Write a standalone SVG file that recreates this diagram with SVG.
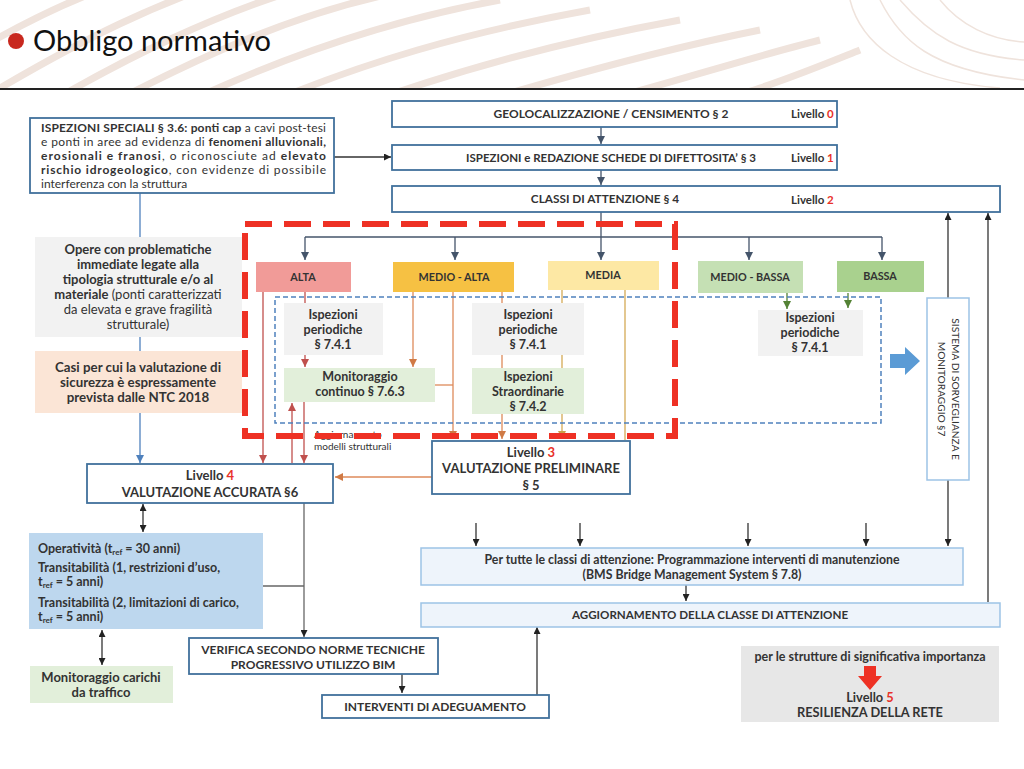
<svg xmlns="http://www.w3.org/2000/svg" width="1024" height="769" viewBox="0 0 1024 769">
<defs>
<style>
text{font-family:Lato,"Open Sans","Liberation Sans",sans-serif;fill:#333}
.b{font-weight:bold}
.c{text-anchor:middle}
.box{fill:#fff;stroke:#41719c;stroke-width:1.8}
.lbox{fill:#eef4fb;stroke:#9dc3e6;stroke-width:1.5}
.gray{fill:#f2f2f2}
.green{fill:#e2efda}
.red{fill:#e8322a}
.ln{fill:none;stroke-width:1.3}
.dk{stroke:#44546a}
.bk{stroke:#333}
.rd{stroke:#c0504d}
.or{stroke:#de8a5a}
.gd{stroke:#d4aa55}
.gn{stroke:#548235}
.bl{stroke:#4f81bd}
.gy{stroke:#666}
.wave{fill:none;stroke:#efe3dc;stroke-width:7}
</style>
<marker id="m-dk" viewBox="0 0 10 10" refX="10" refY="5" markerWidth="8" markerHeight="8" markerUnits="userSpaceOnUse" orient="auto-start-reverse"><path d="M0,0L10,5L0,10z" fill="#44546a"/></marker>
<marker id="m-bk" viewBox="0 0 10 10" refX="10" refY="5" markerWidth="7" markerHeight="7" markerUnits="userSpaceOnUse" orient="auto-start-reverse"><path d="M0,0L10,5L0,10z" fill="#222"/></marker>
<marker id="m-rd" viewBox="0 0 10 10" refX="10" refY="5" markerWidth="8" markerHeight="8" markerUnits="userSpaceOnUse" orient="auto-start-reverse"><path d="M0,0L10,5L0,10z" fill="#c0504d"/></marker>
<marker id="m-or" viewBox="0 0 10 10" refX="10" refY="5" markerWidth="8" markerHeight="8" markerUnits="userSpaceOnUse" orient="auto-start-reverse"><path d="M0,0L10,5L0,10z" fill="#d07a45"/></marker>
<marker id="m-gd" viewBox="0 0 10 10" refX="10" refY="5" markerWidth="8" markerHeight="8" markerUnits="userSpaceOnUse" orient="auto-start-reverse"><path d="M0,0L10,5L0,10z" fill="#c9a14a"/></marker>
<marker id="m-gn" viewBox="0 0 10 10" refX="10" refY="5" markerWidth="8" markerHeight="8" markerUnits="userSpaceOnUse" orient="auto-start-reverse"><path d="M0,0L10,5L0,10z" fill="#548235"/></marker>
<marker id="m-bl" viewBox="0 0 10 10" refX="10" refY="5" markerWidth="8" markerHeight="8" markerUnits="userSpaceOnUse" orient="auto-start-reverse"><path d="M0,0L10,5L0,10z" fill="#4f81bd"/></marker>
<clipPath id="hdr"><rect x="0" y="0" width="1024" height="88"/></clipPath>
</defs>
<rect width="1024" height="769" fill="#fff"/>
<g id="header">
<g clip-path="url(#hdr)">
<path class="wave" d="M-40,60 C60,0 120,-20 200,-40"/>
<path class="wave" d="M-20,100 C80,40 160,0 260,-30"/>
<path class="wave" d="M20,120 C120,60 220,10 330,-20"/>
<path class="wave" d="M80,120 C190,60 300,10 410,-10"/>
<path class="wave" d="M150,120 C270,60 390,20 500,0"/>
<path class="wave" d="M230,120 C360,60 480,30 590,10"/>
<path class="wave" d="M320,120 C450,70 570,40 680,20"/>
<path class="wave" d="M420,120 C550,80 660,50 760,30"/>
<path class="wave" d="M530,120 C650,90 740,60 820,40"/>
<path class="wave" d="M640,120 C740,100 810,70 860,50"/>
<path fill="none" stroke="#efe3dc" stroke-width="1.5" d="M880,0 C900,40 930,70 1024,80 M900,0 C930,35 960,55 1024,60 M940,0 C960,25 990,40 1024,42 M850,0 C860,40 900,80 1000,88"/>
</g>
<circle cx="16" cy="41" r="8" fill="#c8281e"/>
<text x="33" y="51" font-size="29" style="fill:#111">Obbligo normativo</text>
<line x1="0" y1="89" x2="1024" y2="89" stroke="#222" stroke-width="1.8"/>
</g>
<g id="connectors">
<path class="ln dk" d="M601,127V144" marker-end="url(#m-dk)"/>
<path class="ln dk" d="M601,170V185" marker-end="url(#m-dk)"/>
<path class="ln bk" d="M334,157H391" marker-end="url(#m-bk)"/>
<path class="ln bl" d="M140,193V463" marker-end="url(#m-bl)"/>
<path class="ln dk" d="M601,212V260" marker-end="url(#m-dk)"/>
<path class="ln dk" d="M305,237H882"/>
<path class="ln dk" d="M305,237V260" marker-end="url(#m-dk)"/>
<path class="ln dk" d="M455,237V260" marker-end="url(#m-dk)"/>
<path class="ln dk" d="M749,237V260" marker-end="url(#m-dk)"/>
<path class="ln dk" d="M882,237V260" marker-end="url(#m-dk)"/>
<path class="ln gn" d="M787,293V309" marker-end="url(#m-gn)"/>
<path class="ln gn" d="M848,293V308" marker-end="url(#m-gn)"/>
<path class="ln rd" d="M305,292V304"/>
<path class="ln rd" d="M305,355V367" marker-end="url(#m-rd)"/>
<path class="ln rd" d="M263,292V463" marker-end="url(#m-rd)"/>
<path class="ln rd" d="M304,402V463" marker-end="url(#m-rd)"/>
<path class="ln rd" d="M292,463V403" marker-end="url(#m-rd)"/>
<path class="ln or" d="M413,292V367" marker-end="url(#m-or)"/>
<path class="ln or" d="M453,292V439" marker-end="url(#m-or)"/>
<path class="ln or" d="M435,385H453"/>
<path class="ln or" d="M502,292V439" marker-end="url(#m-or)"/>
<path class="ln gd" d="M562,290V439" marker-end="url(#m-gd)"/>
<path class="ln gd" d="M625,290V440"/>
<path class="ln or" d="M432,477H335" marker-end="url(#m-or)"/>
<path class="ln bk" d="M143,504V532" marker-start="url(#m-bk)" marker-end="url(#m-bk)"/>
<path class="ln bk" d="M102,630V665" marker-start="url(#m-bk)" marker-end="url(#m-bk)"/>
<path class="ln gy" d="M304,503V637" marker-end="url(#m-bk)"/>
<path class="ln gy" d="M263,586H304"/>
<path class="ln bk" d="M402,674V693" marker-end="url(#m-bk)"/>
<path class="ln bk" d="M537,695V627" marker-end="url(#m-bk)"/>
<path class="ln bk" d="M686,585V601" marker-end="url(#m-bk)"/>
<path class="ln bk" d="M476,523V546" marker-end="url(#m-bk)"/>
<path class="ln bk" d="M580,523V546" marker-end="url(#m-bk)"/>
<path class="ln bk" d="M748,523V546" marker-end="url(#m-bk)"/>
<path class="ln bk" d="M866,523V546" marker-end="url(#m-bk)"/>
<path class="ln bk" d="M948,298V213" marker-end="url(#m-bk)"/>
<path class="ln bk" d="M948,480V546" marker-end="url(#m-bk)"/>
<path class="ln bk" d="M988,602V213" marker-end="url(#m-bk)"/>
</g>
<g id="n-geo">
<rect class="box" x="392" y="101" width="445" height="26"/>
<text class="b c" x="611" y="118" font-size="12">GEOLOCALIZZAZIONE / CENSIMENTO § 2</text>
<text class="b" x="791" y="118" font-size="11.5">Livello <tspan class="red">0</tspan></text>
</g>
<g id="n-isp">
<rect class="box" x="392" y="145" width="445" height="25"/>
<text class="b c" x="611" y="162" font-size="11.5">ISPEZIONI e REDAZIONE SCHEDE DI DIFETTOSITA’ § 3</text>
<text class="b" x="791" y="162" font-size="11.5">Livello <tspan class="red">1</tspan></text>
</g>
<g id="n-classi">
<rect class="box" x="392" y="186" width="608" height="26"/>
<text class="b c" x="605" y="203" font-size="11.8">CLASSI DI ATTENZIONE § 4</text>
<text class="b" x="791" y="204" font-size="11.5">Livello <tspan class="red">2</tspan></text>
</g>
<g id="n-speciali">
<rect x="30" y="118" width="304" height="75" fill="#fff" stroke="#41719c" stroke-width="1.8"/>
<text x="41" y="132" font-size="12" textLength="285" lengthAdjust="spacing"><tspan class="b">ISPEZIONI SPECIALI § 3.6: ponti cap</tspan> a cavi post-tesi</text>
<text x="41" y="146" font-size="12" textLength="285" lengthAdjust="spacing">e ponti in aree ad evidenza di <tspan class="b">fenomeni alluvionali,</tspan></text>
<text x="41" y="160" font-size="12" textLength="285" lengthAdjust="spacing"><tspan class="b">erosionali e franosi</tspan>, o riconosciute ad <tspan class="b">elevato</tspan></text>
<text x="41" y="174" font-size="12" textLength="285" lengthAdjust="spacing"><tspan class="b">rischio idrogeologico</tspan>, con evidenze di possibile</text>
<text x="41" y="188" font-size="12">interferenza con la struttura</text>
</g>
<g id="n-opere">
<rect class="gray" x="35" y="237" width="207" height="100"/>
<text class="b c" x="138" y="254" font-size="13">Opere con problematiche</text>
<text class="b c" x="138" y="269" font-size="13">immediate legate alla</text>
<text class="b c" x="138" y="284" font-size="13">tipologia strutturale e/o al</text>
<text class="c" x="138" y="299" font-size="13"><tspan class="b">materiale</tspan> (ponti caratterizzati</text>
<text class="c" x="138" y="314" font-size="13">da elevata e grave fragilità</text>
<text class="c" x="138" y="329" font-size="13">strutturale)</text>
</g>
<g id="n-casi">
<rect x="35" y="351" width="207" height="62" fill="#fbe5d6"/>
<text class="b c" x="138" y="372" font-size="13.3">Casi per cui la valutazione di</text>
<text class="b c" x="138" y="387" font-size="13.3">sicurezza è espressamente</text>
<text class="b c" x="138" y="402" font-size="13.3">prevista dalle NTC 2018</text>
</g>
<g id="n-alta">
<rect x="256" y="262" width="95" height="30" fill="#f19b98"/>
<text class="b c" x="303" y="281" font-size="10.8">ALTA</text>
</g>
<g id="n-medioalta">
<rect x="393" y="262" width="121" height="30" fill="#f6c143"/>
<text class="b c" x="454" y="281" font-size="10.8">MEDIO - ALTA</text>
</g>
<g id="n-media">
<rect x="548" y="261" width="111" height="29" fill="#fde8a4"/>
<text class="b c" x="603" y="279" font-size="10.8">MEDIA</text>
</g>
<g id="n-mediobassa">
<rect x="698" y="261" width="105" height="32" fill="#c5e0b4"/>
<text class="b c" x="750" y="281" font-size="10.8">MEDIO - BASSA</text>
</g>
<g id="n-bassa">
<rect x="837" y="261" width="87" height="31" fill="#a9d18e"/>
<text class="b c" x="880" y="280" font-size="10.8">BASSA</text>
</g>
<g id="n-frame">
<rect x="275" y="297" width="606" height="126" fill="none" stroke="#4f81bd" stroke-width="1.5" stroke-dasharray="5 3"/>
</g>
<g id="n-periodiche1">
<rect class="gray" x="284" y="303" width="99" height="52"/>
<text class="b c" x="333" y="319" font-size="12.5">Ispezioni</text>
<text class="b c" x="333" y="334" font-size="12.5">periodiche</text>
<text class="b c" x="333" y="349" font-size="12.5">§ 7.4.1</text>
</g>
<g id="n-monitoraggio">
<rect class="green" x="284" y="368" width="151" height="34"/>
<text class="b c" x="360" y="381" font-size="12.5">Monitoraggio</text>
<text class="b c" x="360" y="396" font-size="12.5">continuo § 7.6.3</text>
</g>
<g id="n-periodiche2">
<rect class="gray" x="472" y="303" width="112" height="52"/>
<text class="b c" x="528" y="319" font-size="12.5">Ispezioni</text>
<text class="b c" x="528" y="334" font-size="12.5">periodiche</text>
<text class="b c" x="528" y="349" font-size="12.5">§ 7.4.1</text>
</g>
<g id="n-straordinarie">
<rect class="green" x="472" y="368" width="112" height="46"/>
<text class="b c" x="528" y="381" font-size="12.5">Ispezioni</text>
<text class="b c" x="528" y="396" font-size="12.5">Straordinarie</text>
<text class="b c" x="528" y="411" font-size="12.5">§ 7.4.2</text>
</g>
<g id="n-periodiche3">
<rect class="gray" x="758" y="310" width="105" height="46"/>
<text class="b c" x="810" y="322" font-size="12.5">Ispezioni</text>
<text class="b c" x="810" y="337" font-size="12.5">periodiche</text>
<text class="b c" x="810" y="352" font-size="12.5">§ 7.4.1</text>
</g>
<g id="n-aggmodelli">
<text x="314" y="438" font-size="10">Aggiornamento</text>
<text x="314" y="450" font-size="10">modelli strutturali</text>
</g>
<g id="n-reddash">
<rect x="245" y="224" width="430" height="212" fill="none" stroke="#ee3124" stroke-width="6" stroke-dasharray="27 12"/>
</g>
<g id="n-bluearrow">
<polygon points="890,354 905,354 905,347 920,361 905,375 905,368 890,368" fill="#5b9bd5"/>
</g>
<g id="n-sistema">
<rect x="927" y="298" width="42" height="182" fill="#fff" stroke="#9dc3e6" stroke-width="1.5"/>
<g transform="translate(948,389) rotate(90)">
<text class="c" x="0" y="-4" font-size="10.2">SISTEMA DI SORVEGLIANZA E</text>
<text class="c" x="0" y="10" font-size="10.2">MONITORAGGIO  §7</text>
</g>
</g>
<g id="n-livello3">
<rect class="box" x="432" y="441" width="198" height="53"/>
<text class="b c" x="531" y="457" font-size="13">Livello <tspan class="red">3</tspan></text>
<text class="b c" x="531" y="473" font-size="13">VALUTAZIONE PRELIMINARE</text>
<text class="b c" x="531" y="490" font-size="13">§ 5</text>
</g>
<g id="n-livello4">
<rect class="box" x="87" y="464" width="246" height="39"/>
<text class="b c" x="210" y="480" font-size="13">Livello <tspan class="red">4</tspan></text>
<text class="b c" x="210" y="497" font-size="13">VALUTAZIONE ACCURATA  §6</text>
</g>
<g id="n-operativita">
<rect x="29" y="533" width="234" height="96" fill="#bdd7ee"/>
<text class="b" x="38" y="553" font-size="12.5">Operatività (t<tspan font-size="8" dy="2">ref</tspan><tspan dy="-2"> = 30 anni)</tspan></text>
<text class="b" x="38" y="572" font-size="12.5">Transitabilità (1, restrizioni d’uso,</text>
<text class="b" x="38" y="586" font-size="12.5">t<tspan font-size="8" dy="2">ref</tspan><tspan dy="-2"> = 5 anni)</tspan></text>
<text class="b" x="38" y="607" font-size="12.5">Transitabilità (2, limitazioni di carico,</text>
<text class="b" x="38" y="621" font-size="12.5">t<tspan font-size="8" dy="2">ref</tspan><tspan dy="-2"> = 5 anni)</tspan></text>
</g>
<g id="n-carichi">
<rect class="green" x="30" y="666" width="143" height="37"/>
<text class="b c" x="101" y="682" font-size="13">Monitoraggio carichi</text>
<text class="b c" x="101" y="697" font-size="13">da traffico</text>
</g>
<g id="n-verifica">
<rect class="box" x="189" y="638" width="249" height="36"/>
<text class="b c" x="313" y="654" font-size="12">VERIFICA SECONDO NORME TECNICHE</text>
<text class="b c" x="313" y="669" font-size="12">PROGRESSIVO UTILIZZO BIM</text>
</g>
<g id="n-interventi">
<rect class="box" x="322" y="695" width="227" height="23"/>
<text class="b c" x="435" y="711" font-size="12">INTERVENTI DI ADEGUAMENTO</text>
</g>
<g id="n-pertutte">
<rect class="lbox" x="421" y="548" width="542" height="37"/>
<text class="b c" x="692" y="564" font-size="12.3">Per tutte le classi di attenzione: Programmazione interventi di manutenzione</text>
<text class="b c" x="692" y="579" font-size="12.3">(BMS Bridge Management System § 7.8)</text>
</g>
<g id="n-aggiornamento">
<rect class="lbox" x="421" y="603" width="579" height="24"/>
<text class="b c" x="710" y="619" font-size="11.6">AGGIORNAMENTO DELLA CLASSE DI ATTENZIONE</text>
</g>
<g id="n-livello5">
<rect x="741" y="646" width="258" height="76" fill="#e7e7e7"/>
<text class="b c" x="870" y="661" font-size="12.5">per le strutture di significativa importanza</text>
<polygon points="864,666 876,666 876,676 882,676 870,690 858,676 864,676" fill="#ee3124"/>
<text class="b c" x="870" y="702" font-size="12.8">Livello <tspan class="red">5</tspan></text>
<text class="b c" x="870" y="717" font-size="12.8">RESILIENZA DELLA RETE</text>
</g>
</svg>
